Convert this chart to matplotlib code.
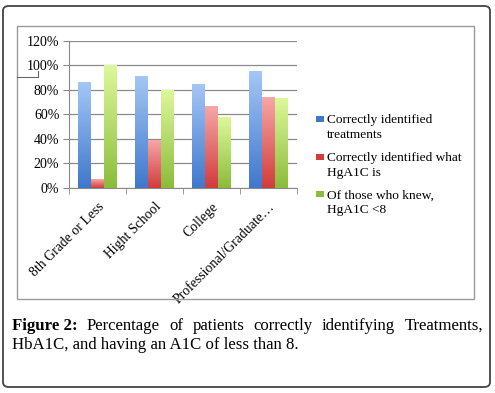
import numpy as np
import matplotlib
matplotlib.use("Agg")
import matplotlib.pyplot as plt
from matplotlib.patches import FancyBboxPatch, Rectangle
from matplotlib.colors import LinearSegmentedColormap

categories = ["8th Grade or Less", "Hight School", "College", "Professional/Graduate\u2026"]
series_names = [["Correctly identified", "treatments"],
                ["Correctly identified what", "HgA1C is"],
                ["Of those who knew,", "HgA1C <8"]]
treatments = [86, 91, 85, 95]
hga1c = [7, 39, 67, 74]
below8 = [100, 80, 58, 73]
yticks = [0, 20, 40, 60, 80, 100, 120]
caption_bold = "Figure 2:"
caption_line1 = "Percentage of patients correctly identifying Treatments,"
caption_line2 = "HbA1C, and having an A1C of less than 8."

grads = [("#a4c6f6", "#3f78cc"), ("#f6a6a6", "#d23c3c"), ("#dcf89a", "#8cbc3c")]
serif = ["Cambria", "Liberation Serif", "DejaVu Serif"]

W, H = 495, 393
fig = plt.figure(figsize=(W / 100, H / 100), dpi=100)

def fx(px):
    return px / W

def fy(py):
    return 1 - py / H

# outer rounded frame
fig.patches.append(FancyBboxPatch((fx(3), fy(387)), fx(487), 381 / H,
                                  boxstyle="round,pad=0,rounding_size=0.012",
                                  transform=fig.transFigure, fill=False,
                                  edgecolor="#444444", linewidth=1.3))
# inner chart frame
fig.patches.append(Rectangle((fx(17), fy(299)), fx(457), 273 / H,
                             transform=fig.transFigure, fill=False,
                             edgecolor="#9a9a9a", linewidth=1.0))
# small artifact line near 100%
fig.add_artist(plt.Line2D([fx(17), fx(38), fx(38)], [fy(76.5), fy(76.5), fy(71)],
                          transform=fig.transFigure, color="#666666", lw=0.8))

ax = fig.add_axes([fx(69), fy(187.5), fx(228), (187.5 - 40.7) / H])
ax.set_facecolor("none")

width = 0.227
offsets = [-width, 0, width]
data = [treatments, hga1c, below8]
x = np.arange(len(categories))
for s, vals in enumerate(data):
    bars = ax.bar(x + offsets[s], vals, width=width, color="none", linewidth=0, zorder=2)
    cmap = LinearSegmentedColormap.from_list("g%d" % s, [grads[s][1], grads[s][0]])
    for b in bars:
        x0, y0 = b.get_x(), b.get_y()
        w, h = b.get_width(), b.get_height()
        grad = np.linspace(0, 1, 64).reshape(-1, 1)
        im = ax.imshow(grad, cmap=cmap, origin="lower", aspect="auto",
                       extent=[x0, x0 + w, y0, y0 + h], zorder=2)
        im.set_clip_path(b)

ax.set_xlim(-0.5, len(categories) - 0.5)
ax.set_ylim(0, 120)
ax.set_yticks(yticks)
ax.set_yticklabels(["%d%%" % v for v in yticks], fontfamily=serif, fontsize=10)
ax.yaxis.grid(True, color="#8a8a8a", linewidth=0.9, zorder=0)
ax.set_axisbelow(True)
for sp in ["top", "right"]:
    ax.spines[sp].set_visible(False)
ax.spines["left"].set_color("#8a8a8a")
ax.spines["bottom"].set_color("#8a8a8a")
ax.tick_params(axis="y", length=4, color="#8a8a8a", pad=3)
ax.set_xticks(np.arange(len(categories) + 1) - 0.5, minor=True)
ax.tick_params(axis="x", which="minor", length=4, color="#8a8a8a")
ax.set_xticks(x)
ax.set_xticklabels(categories, rotation=45, ha="right", va="top",
                   rotation_mode="anchor", fontfamily=serif, fontsize=9.9)
ax.tick_params(axis="x", which="major", length=0, pad=9)

# legend
legend_y = [119, 157, 194]
line_gap = 14.5
for s, lines in enumerate(series_names):
    cy = legend_y[s]
    fig.patches.append(Rectangle((fx(316), fy(cy + 3)), fx(8), 6.5 / H,
                                 transform=fig.transFigure,
                                 facecolor=grads[s][1], edgecolor="none"))
    for k, ln in enumerate(lines):
        fig.text(fx(327), fy(cy + k * line_gap), ln, fontfamily=serif, fontsize=9.6,
                 va="center_baseline", ha="left")

# caption, justified first line
cap_fs = 12.1
r = fig.canvas.get_renderer()
words = [(caption_bold, "bold")] + [(w, "normal") for w in caption_line1.split()]
texts = []
for w, wt in words:
    t = fig.text(0, fy(330), w, fontfamily=serif, fontsize=cap_fs, fontweight=wt,
                 va="baseline", ha="left")
    texts.append(t)
widths = [t.get_window_extent(r).width for t in texts]
left, right = 12, 483
gap = (right - left - sum(widths)) / (len(texts) - 1)
cur = left
for t, wd in zip(texts, widths):
    t.set_x(fx(cur))
    cur += wd + gap
fig.text(fx(12), fy(349), caption_line2, fontfamily=serif, fontsize=cap_fs,
         va="baseline", ha="left")

fig.savefig("out.png", dpi=100)
